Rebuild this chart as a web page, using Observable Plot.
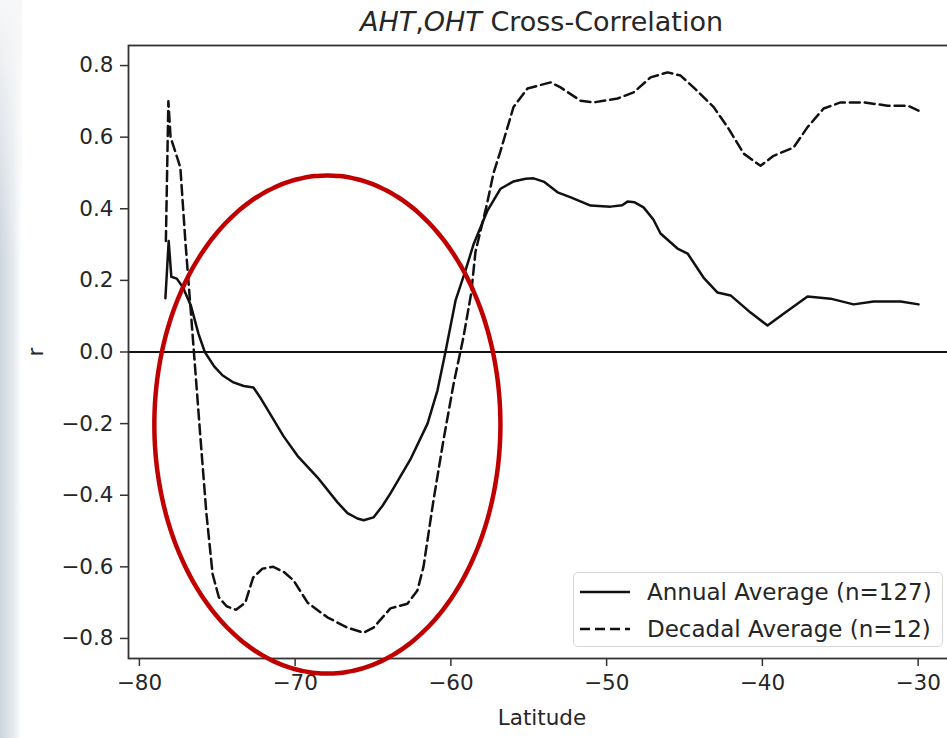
<!DOCTYPE html>
<html>
<head>
<meta charset="utf-8">
<script src="https://cdn.jsdelivr.net/npm/d3@7"></script>
<script src="https://cdn.jsdelivr.net/npm/@observablehq/plot@0.6"></script>
<style>
  html, body { margin: 0; padding: 0; background: #fff; overflow: hidden; }
  #wrap { position: relative; width: 947px; height: 738px; overflow: hidden; font-family: "DejaVu Sans", sans-serif; color: #262626; }
  #bg { position: absolute; left: 0; top: 0; width: 22px; height: 738px;
        background: linear-gradient(to right, #cdd4dc 0%, #e6eaee 60%, #ffffff 100%); }
  #bgtop { position: absolute; left: 0; top: 0; width: 22px; height: 260px;
        background: linear-gradient(to bottom, #f6f7f8 0%, rgba(246,247,248,0) 100%); }
  #chart { position: absolute; left: 0; top: 0; width: 960px; height: 738px; }
  #chart svg { max-width: none !important; }
  #title { position: absolute; left: 128px; width: 827px; top: 6px; text-align: center; font-size: 27px; color: #262626; white-space: nowrap; }
  #legend { position: absolute; left: 573px; top: 572px; width: 368px; height: 73px; border: 1.5px solid #d6d6d6; border-radius: 5px; background: rgba(255,255,255,0.85); font-size: 23px; }
  .row { position: absolute; left: 0; height: 30px; display: flex; align-items: center; white-space: nowrap; }
  .row svg { margin-left: 6px; margin-right: 17px; }
</style>
</head>
<body>
<div id="wrap">
  <div id="bg"></div><div id="bgtop"></div>
  <div id="chart"></div>
  <div id="title"><i>AHT</i>,<i>OHT</i> Cross-Correlation</div>
  <div id="legend">
    <div class="row" style="top:4px"><svg width="50" height="10"><line x1="0" x2="50" y1="5" y2="5" stroke="#111" stroke-width="2.6"/></svg><span>Annual Average (n=127)</span></div>
    <div class="row" style="top:41px"><svg width="50" height="10"><line x1="0" x2="50" y1="5" y2="5" stroke="#111" stroke-width="2.6" stroke-dasharray="10,5"/></svg><span>Decadal Average (n=12)</span></div>
  </div>
</div>
<script>
// ---- data ----
const annualLat = [-78.33,-78.12,-77.95,-77.6,-77.2,-76.7,-76.2,-75.8,-75.2,-74.67,-73.96,-73.3,-72.68,-72.2,-71.78,-70.75,-69.85,-68.57,-67.28,-66.64,-66.0,-65.6,-64.97,-64.4,-63.88,-62.6,-61.5,-60.86,-60.35,-59.7,-59.06,-58.55,-57.65,-56.81,-56.0,-55.2,-54.69,-54.0,-53.15,-52.3,-51.03,-49.75,-49.0,-48.66,-48.2,-47.63,-47.0,-46.54,-45.45,-44.8,-43.78,-42.88,-42.04,-40.76,-39.67,-38.64,-37.1,-35.62,-34.14,-32.86,-31.12,-29.97];
const annualR = [0.15,0.31,0.21,0.205,0.18,0.13,0.05,0.0,-0.04,-0.065,-0.085,-0.095,-0.099,-0.13,-0.16,-0.235,-0.29,-0.35,-0.42,-0.45,-0.465,-0.47,-0.462,-0.43,-0.395,-0.3,-0.2,-0.107,0.0,0.144,0.228,0.3,0.395,0.456,0.476,0.484,0.485,0.475,0.446,0.432,0.409,0.406,0.41,0.42,0.418,0.404,0.37,0.331,0.289,0.275,0.208,0.166,0.158,0.11,0.074,0.107,0.155,0.149,0.133,0.141,0.141,0.133];

const decadalLat = [-78.3,-78.14,-78.0,-77.7,-77.37,-77.05,-76.72,-76.5,-76.08,-75.7,-75.3,-74.9,-74.4,-73.8,-73.2,-72.7,-72.1,-71.4,-70.7,-70.1,-69.2,-67.93,-66.64,-65.61,-64.97,-63.88,-62.79,-62.15,-61.76,-61.12,-60.48,-59.83,-59.2,-58.7,-58.42,-57.7,-57.26,-56.81,-55.98,-55.08,-53.6,-52.96,-51.68,-50.84,-49.3,-48.27,-47.18,-46.09,-45.25,-44.42,-43.13,-42.23,-41.2,-40.12,-39.28,-38.0,-37.1,-36.07,-34.98,-33.5,-31.96,-30.67,-29.97];
const decadalR = [0.31,0.70,0.60,0.56,0.515,0.31,0.125,0.0,-0.24,-0.45,-0.62,-0.685,-0.71,-0.72,-0.70,-0.63,-0.605,-0.60,-0.615,-0.638,-0.70,-0.741,-0.77,-0.784,-0.77,-0.716,-0.703,-0.666,-0.60,-0.415,-0.247,-0.09,0.04,0.163,0.28,0.41,0.5,0.562,0.684,0.736,0.753,0.739,0.702,0.697,0.708,0.725,0.767,0.781,0.772,0.739,0.684,0.628,0.554,0.52,0.548,0.571,0.628,0.68,0.697,0.697,0.688,0.688,0.674];

const xTicks = [-80, -70, -60, -50, -40, -30];
const yTicks = [-0.8, -0.6, -0.4, -0.2, 0.0, 0.2, 0.4, 0.6, 0.8];

// red highlight ellipse (annotation), in data units
const ellipseCenter = [-67.93, -0.2025];
const ellipseRadii = [11.11, 0.6955];

// ---- build tables ----
const annual = annualLat.map((lat, i) => ({lat, r: annualR[i]}));
const decadal = decadalLat.map((lat, i) => ({lat, r: decadalR[i]}));
const ellipse = d3.range(0, 361, 2).map(a => {
  const t = a * Math.PI / 180;
  return {lat: ellipseCenter[0] + ellipseRadii[0] * Math.cos(t), r: ellipseCenter[1] + ellipseRadii[1] * Math.sin(t)};
});

const fmtY = d3.format(".1f");
const chart = Plot.plot({
  width: 960,
  height: 738,
  marginLeft: 128,
  marginRight: 5,
  marginTop: 45,
  marginBottom: 80,
  style: {fontFamily: "DejaVu Sans", fontSize: "21.5px", color: "#262626", background: "transparent", overflow: "visible", maxWidth: "none"},
  x: {domain: [-80.7, -27.6]},
  y: {domain: [-0.856, 0.856]},
  marks: [
    Plot.axisX({ticks: xTicks, tickSize: 8, tickPadding: 8, fontSize: 21.5, stroke: "#333", strokeWidth: 1.5,
      label: "Latitude", labelAnchor: "center", labelArrow: "none", labelOffset: 66}),
    Plot.axisY({ticks: yTicks, tickSize: 8, tickPadding: 7, fontSize: 21.5, tickFormat: fmtY, stroke: "#333", strokeWidth: 1.5,
      label: "r", labelAnchor: "center", labelArrow: "none", labelOffset: 101}),
    Plot.ruleY([0], {stroke: "#111", strokeWidth: 2.2}),
    Plot.line(annual, {x: "lat", y: "r", stroke: "#111", strokeWidth: 2.5}),
    Plot.line(decadal, {x: "lat", y: "r", stroke: "#111", strokeWidth: 2.5, strokeDasharray: "10,5"}),
    Plot.frame({stroke: "#333", strokeWidth: 1.8}),
    Plot.line(ellipse, {x: "lat", y: "r", stroke: "#c00000", strokeWidth: 4.5, curve: "catmull-rom"})
  ]
});
chart.style.maxWidth = "none";
document.getElementById("chart").appendChild(chart);
</script>
</body>
</html>
